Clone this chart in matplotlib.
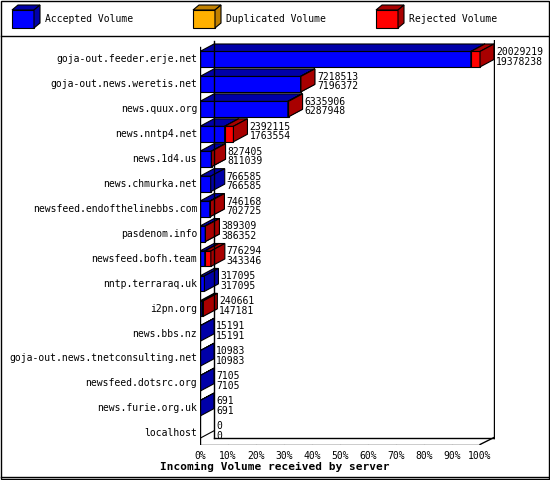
import matplotlib
matplotlib.use("Agg")
import matplotlib.pyplot as plt
from matplotlib.patches import Polygon

servers = [
    "goja-out.feeder.erje.net", "goja-out.news.weretis.net", "news.quux.org",
    "news.nntp4.net", "news.1d4.us", "news.chmurka.net",
    "newsfeed.endofthelinebbs.com", "pasdenom.info", "newsfeed.bofh.team",
    "nntp.terraraq.uk", "i2pn.org", "news.bbs.nz",
    "goja-out.news.tnetconsulting.net", "newsfeed.dotsrc.org",
    "news.furie.org.uk", "localhost",
]
total = [20029219, 7218513, 6335906, 2392115, 827405, 766585, 746168, 389309,
         776294, 317095, 240661, 15191, 10983, 7105, 691, 0]
accepted = [19378238, 7196372, 6287948, 1763554, 811039, 766585, 702725, 386352,
            343346, 317095, 147181, 15191, 10983, 7105, 691, 0]
ticks = list(range(0, 101, 10))

BLUE, BLUE_D = "#0000ff", "#0000a8"
RED, RED_D = "#ff0000", "#a80000"
YEL, YEL_D = "#ffb000", "#c08000"
FONT = "DejaVu Sans Mono"
FS = 7
DX, DY, H = 5.0, -0.3, 0.62

fig = plt.figure(figsize=(5.5, 4.8), dpi=100)
ax = fig.add_axes([200 / 550, 1 - 445 / 480, 295 / 550, 405 / 480])
ax.set_xlim(0, 295 / 2.8)
n = len(servers)
ax.set_ylim(n - 1 + 0.47, -0.77)
ax.axis("off")


def box(x0, x1, yc, front, dark):
    y0, y1 = yc + H / 2, yc - H / 2
    ax.add_patch(Polygon([(x0, y0), (x1, y0), (x1, y1), (x0, y1)], fc=front, ec="black", lw=0.8))
    ax.add_patch(Polygon([(x0, y1), (x1, y1), (x1 + DX, y1 + DY), (x0 + DX, y1 + DY)], fc=dark, ec="black", lw=0.8))
    ax.add_patch(Polygon([(x1, y0), (x1 + DX, y0 + DY), (x1 + DX, y1 + DY), (x1, y1)], fc=dark, ec="black", lw=0.8))


# floor and walls
ybot = n - 1 + 0.47
top = -0.77
ax.plot([0, 100], [ybot - 0.02, ybot - 0.02], color="black", lw=1)
ax.plot([DX, 100 + DX], [ybot + DY, ybot + DY], color="black", lw=1)
ax.plot([100, 100 + DX], [ybot - 0.02, ybot + DY], color="black", lw=1)
ax.plot([0, 0], [top + 0.3, ybot], color="black", lw=1)
ax.plot([DX, DX], [top + 0.05, ybot + DY], color="black", lw=1)
ax.plot([100 + DX, 100 + DX], [top, ybot + DY], color="black", lw=1)

mx = max(total)
for i, (t, a) in enumerate(zip(total, accepted)):
    pa = a / mx * 100
    pt = t / mx * 100
    if t == 0:
        ax.plot([0, DX], [i + 0.2, i + 0.2 + DY], color="black", lw=0.8)
    else:
        box(0, pa, i, BLUE, BLUE_D)
        if pt > pa:
            box(pa, pt, i, RED, RED_D)
    ax.text(pt + DX + 0.7, i - 0.1, f"{t}\n{a}", fontsize=FS, family=FONT,
            va="center", ha="left", linespacing=0.95)
    ax.text(-1, i, servers[i], fontsize=FS, family=FONT, ha="right", va="center")

for tk in ticks:
    ax.plot([tk, tk], [ybot - 0.02, ybot + 0.12], color="black", lw=0.8)
    ax.text(tk, ybot + 0.25, f"{tk}%", fontsize=FS, family=FONT, ha="center", va="top",
            clip_on=False)

# overlay in pixel coordinates
ov = fig.add_axes([0, 0, 1, 1], facecolor="none")
ov.set_xlim(0, 550)
ov.set_ylim(480, 0)
ov.axis("off")
ov.add_patch(Polygon([(1, 1), (549, 1), (549, 479), (1, 479)], fill=False, ec="black", lw=1))
ov.plot([1, 549], [36, 36], color="black", lw=1)
ov.plot([1, 549], [477, 477], color="black", lw=1)

for x0, front, dark, label in [(12, BLUE, BLUE_D, "Accepted Volume"),
                               (193, YEL, YEL_D, "Duplicated Volume"),
                               (376, RED, RED_D, "Rejected Volume")]:
    w, d = 22, 6
    ov.add_patch(Polygon([(x0, 28), (x0 + w, 28), (x0 + w, 10), (x0, 10)], fc=front, ec="black", lw=0.8))
    ov.add_patch(Polygon([(x0, 10), (x0 + w, 10), (x0 + w + d, 5), (x0 + d, 5)], fc=dark, ec="black", lw=0.8))
    ov.add_patch(Polygon([(x0 + w, 28), (x0 + w + d, 23), (x0 + w + d, 5), (x0 + w, 10)], fc=dark, ec="black", lw=0.8))
    ov.text(x0 + 33, 19, label, fontsize=FS, family=FONT, va="center", ha="left")

ov.text(275, 467, "Incoming Volume received by server", fontsize=8, family=FONT,
        fontweight="bold", ha="center", va="center")

fig.savefig("out.png", dpi=100)
